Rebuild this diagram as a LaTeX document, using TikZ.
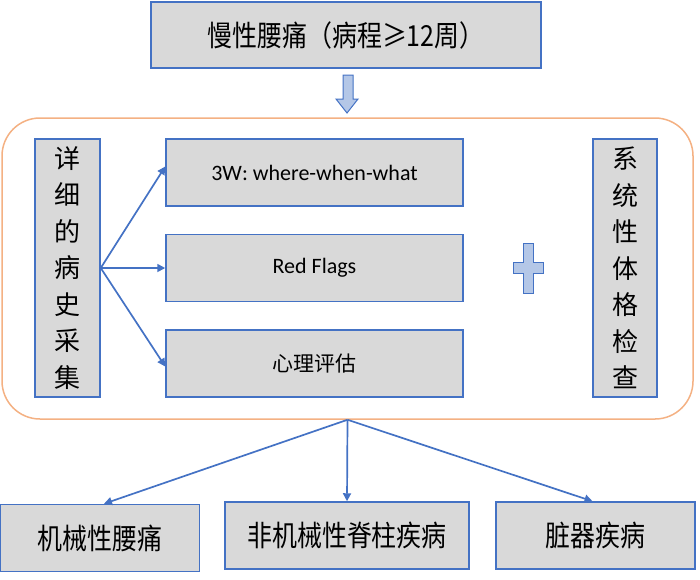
\documentclass[tikz,border=0pt]{standalone}
\usepackage{fontspec}
\setmainfont{Carlito}
\newfontfamily\cjk{Noto Sans CJK SC}
\newfontfamily\cjknarrow[FakeStretch=0.86]{Noto Sans CJK SC}
\usetikzlibrary{arrows.meta}
\definecolor{boxgray}{HTML}{D9D9D9}
\definecolor{boxblue}{HTML}{4472C4}
\definecolor{lightblue}{HTML}{B4C7E7}
\definecolor{frameorange}{HTML}{F4B183}
\begin{document}
\begin{tikzpicture}[x=1pt,y=-1pt,
        box/.style={draw=boxblue, fill=boxgray, line width=1.5pt, inner sep=0pt},
        vbox/.style={box, minimum width=65pt, minimum height=258pt, align=center,
            font=\cjk\fontsize{26}{36.5}\selectfont},
        result/.style={box, minimum height=67pt, font=\cjknarrow\fontsize{29}{32}\selectfont},
        link/.style={draw=boxblue, line width=1.7pt, -{Triangle[width=8pt,length=8pt]}}]
        \useasboundingbox (0,0) rectangle (700,579);

        \node[box, minimum width=390pt, minimum height=66pt, font=\cjknarrow\fontsize{29}{31}\selectfont] (pain) at (346,35) {慢性腰痛（病程≥12周）};
        \path[draw=boxblue, fill=lightblue, line width=1pt] (343,75) -- (353,75) -- (353,99) -- (358,99) -- (347,113) -- (336,99) -- (343,99) -- cycle;

        \node[draw=frameorange, line width=1.5pt, rounded corners=38pt, minimum width=691pt, minimum height=301pt] (frame) at (347.5,268.5) {};

        \node[vbox] (hist) at (67.5,268) {详\\细\\的\\病\\史\\采\\集};
        \node[box, minimum width=297pt, minimum height=67pt, font=\fontsize{22}{25}\selectfont] (w3) at (314.5,172.5) {3W: where-when-what};
        \node[box, minimum width=297pt, minimum height=67pt, font=\fontsize{22}{25}\selectfont] (flags) at (314.5,268) {Red Flags};
        \node[box, minimum width=297pt, minimum height=67pt, font=\cjk\fontsize{21}{25}\selectfont] (psy) at (314.5,363.5) {心理评估};
        \node[vbox, minimum width=64pt] (exam) at (625,268) {系\\统\\性\\体\\格\\检\\查};

        \path[draw=boxblue, fill=lightblue, line width=1pt] (523,243) -- (533,243) -- (533,262) -- (543,262) -- (543,273) -- (533,273) -- (533,293) -- (523,293) -- (523,273) -- (513,273) -- (513,262) -- (523,262) -- cycle;

        \path[link] (hist.east) -- ([yshift=6pt]w3.west);
        \path[link] (hist.east) -- (flags.west);
        \path[link] (hist.east) -- ([yshift=-3pt]psy.west);

        \node[result, minimum width=199pt] (mech) at (100,538) {机械性腰痛};
        \node[result, minimum width=244pt] (spine) at (347,535.5) {非机械性脊柱疾病};
        \node[result, minimum width=199pt] (organ) at (595.5,535.5) {脏器疾病};

        \path[link] (frame.south) -- ([xshift=4pt]mech.north);
        \path[link] (frame.south) -- (spine.north);
        \path[link] (frame.south) -- ([xshift=-3pt]organ.north);
    \end{tikzpicture}
\end{document}
